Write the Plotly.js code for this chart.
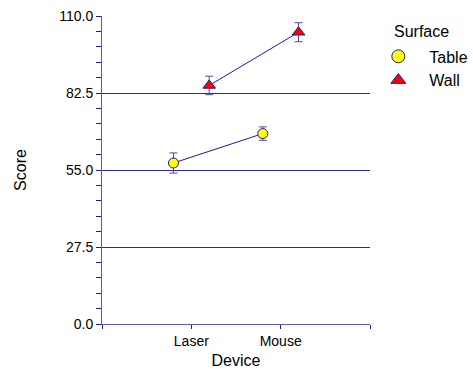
<!DOCTYPE html>
<html><head><meta charset="utf-8">
<script src="https://cdn.plot.ly/plotly-3.0.1.min.js"></script>
<style>body{margin:0;background:#fff}#c{width:473px;height:369px}</style>
</head><body><div id="c"></div>
<script>
const devices = ['Laser', 'Mouse'];
const surfaces = ['Table', 'Wall'];
const tableMeans = [57.5, 68.0];
const tableErr = [3.6, 2.4];
const wallMeans = [85.2, 104.2];
const wallErr = [3.3, 3.4];
const yTicks = [0, 27.5, 55, 82.5, 110];
const yTickText = ['0.0', '27.5', '55.0', '82.5', '110.0'];
const legendTitle = 'Surface';

const navy = '#1c1c8e';
const offset = 0.2;
const pos = (i, s) => i + 1 + (s === 0 ? -offset : offset);

const series = [
  {name: surfaces[0], y: tableMeans, err: tableErr, symbol: 'circle', color: '#ffff00', size: 10},
  {name: surfaces[1], y: wallMeans, err: wallErr, symbol: 'triangle-up', color: '#ff0000', size: 11}
];
const traces = [];
series.forEach((s, si) => {
  const xs = devices.map((d, i) => pos(i, si));
  traces.push({x: xs, y: s.y, mode: 'lines', line: {color: navy, width: 1}, showlegend: false, hoverinfo: 'skip'});
  traces.push({
    x: xs, y: s.y, mode: 'markers', name: s.name, showlegend: false,
    marker: {symbol: s.symbol, color: s.color, size: s.size, line: {color: navy, width: 1}},
    error_y: {type: 'data', array: s.err, visible: true, color: '#4a4aa6', thickness: 1, width: 4}
  });
});
// legend entries (larger symbols, as in the reference legend)
series.forEach(s => {
  traces.push({x: [null], y: [null], mode: 'markers', name: s.name,
    marker: {symbol: s.symbol, color: s.color, size: 13, line: {color: navy, width: 1}}});
});

const layout = {
  width: 473, height: 369,
  margin: {l: 102, r: 103, t: 16, b: 45, autoexpand: false},
  paper_bgcolor: '#fff', plot_bgcolor: '#fff',
  font: {family: 'Liberation Sans, Arial, sans-serif', color: '#000', size: 14},
  showlegend: true,
  legend: {
    x: 0.99, y: 0.924, xanchor: 'left', yanchor: 'top',
    font: {size: 16}, bgcolor: 'rgba(0,0,0,0)', tracegroupgap: 0, itemwidth: 52
  },
  annotations: [{
    text: legendTitle, xref: 'paper', yref: 'paper', x: 1.0, y: 1.0,
    xanchor: 'left', yanchor: 'top', xshift: 22, yshift: -5, showarrow: false,
    font: {size: 16}
  }],
  xaxis: {
    range: [0, devices.length + 1],
    tickvals: [0, 1, 2, 3], ticktext: ['', ...devices, ''],
    ticks: 'outside', ticklen: 4, tickcolor: navy, tickwidth: 1,
    showline: true, linecolor: '#5a5ab0', linewidth: 1,
    showgrid: false, zeroline: false,
    title: {text: 'Device', font: {size: 16}, standoff: 7},
    tickfont: {size: 14}
  },
  yaxis: {
    range: [0, 110],
    tickvals: yTicks, ticktext: yTickText,
    ticks: 'outside', ticklen: 5, tickcolor: navy, tickwidth: 1,
    minor: {dtick: 5.5, tick0: 0, ticks: 'outside', ticklen: 5, tickcolor: navy, showgrid: false},
    showline: true, linecolor: '#5a5ab0', linewidth: 1,
    showgrid: true, gridcolor: '#2a2a96', gridwidth: 1,
    zeroline: false,
    title: {text: 'Score', font: {size: 16}, standoff: 28},
    tickfont: {size: 14}
  }
};
Plotly.newPlot('c', traces, layout, {displayModeBar: false, staticPlot: true});
</script></body></html>
